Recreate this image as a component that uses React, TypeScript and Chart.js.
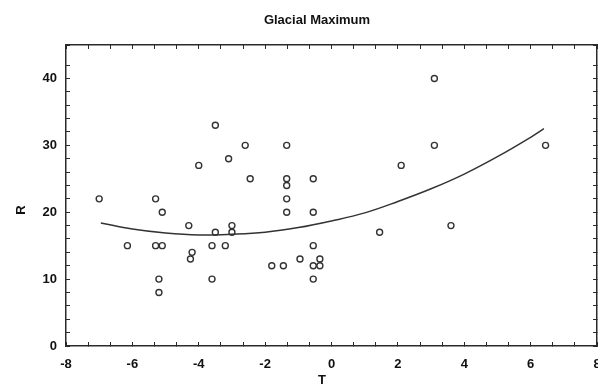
import React, { useEffect, useRef } from "react";
import { Chart, registerables } from "chart.js";

Chart.register(...registerables);

const TITLE = "Glacial Maximum";
const X_TITLE = "T";
const Y_TITLE = "R";

// Observations (T, R)
const obsT = [
  -7.0, -6.15, -5.3, -5.3, -5.1, -5.1, -5.2, -5.2, -4.3, -4.2, -4.25, -4.0,
  -3.6, -3.6, -3.5, -3.5, -3.2, -3.1, -3.0, -3.0, -2.6, -2.45, -1.8, -1.45,
  -1.35, -1.35, -1.35, -1.35, -1.35, -0.95, -0.55, -0.55, -0.55, -0.55, -0.55,
  -0.35, -0.35, 1.45, 2.1, 3.1, 3.1, 3.6, 6.45,
];
const obsR = [
  22, 15, 22, 15, 20, 15, 10, 8, 18, 14, 13, 27,
  15, 10, 33, 17, 15, 28, 18, 17, 30, 25, 12, 12,
  30, 25, 24, 22, 20, 13, 25, 20, 15, 12, 10,
  13, 12, 17, 27, 40, 30, 18, 30,
];

// Fitted curve
const fitT = [-6.95, -6, -5, -4, -3, -2, -1, 0, 1, 2, 3, 4, 5, 6, 6.4];
const fitR = [18.4, 17.5, 16.9, 16.6, 16.7, 17.0, 17.7, 18.7, 19.9, 21.6, 23.5, 25.7, 28.3, 31.2, 32.5];

const X_MIN = -8;
const X_MAX = 8;
const Y_MIN = 0;
const Y_MAX = 45;

const FONT_FAMILY = '"Liberation Sans", Arial, Helvetica, sans-serif';
const INK = "#2a2a2a";

const near = (v: number, step: number) => Math.abs(v / step - Math.round(v / step)) < 1e-6;

const textPlugin = {
  id: "customTexts",
  afterDraw(chart: any) {
    const ctx = chart.ctx;
    ctx.save();
    ctx.fillStyle = "#111";
    ctx.textAlign = "center";
    ctx.textBaseline = "middle";
    ctx.font = `bold 13px ${FONT_FAMILY}`;
    ctx.fillText(TITLE, 317, 20);
    ctx.font = `bold 13px ${FONT_FAMILY}`;
    ctx.fillText(X_TITLE, 322, 380);
    ctx.translate(21, 210);
    ctx.rotate(-Math.PI / 2);
    ctx.fillText(Y_TITLE, 0, 0);
    ctx.restore();
  },
};

export default function App() {
  const ref = useRef<HTMLCanvasElement | null>(null);

  useEffect(() => {
    if (!ref.current) return;
    const tickFont = { family: FONT_FAMILY, size: 13, weight: "bold" as const };
    const gridCommon = {
      drawOnChartArea: false,
      tickLength: -4,
      color: INK,
      tickColor: INK,
      tickWidth: 1,
    };
    const borderCommon = { color: INK, width: 1.5 };
    const noSidePad = (s: any) => {
      s.paddingLeft = 0;
      s.paddingRight = 0;
      s.paddingTop = 0;
      s.paddingBottom = 0;
    };

    const chart = new Chart(ref.current, {
      type: "scatter",
      data: {
        datasets: [
          {
            label: "R",
            data: obsT.map((t, i) => ({ x: t, y: obsR[i] })),
            showLine: false,
            pointStyle: "circle",
            pointRadius: 3,
            pointBorderWidth: 1.4,
            pointBorderColor: "#333",
            pointBackgroundColor: "rgba(255,255,255,0)",
            xAxisID: "x",
            yAxisID: "y",
          },
          {
            label: "fit",
            data: fitT.map((t, i) => ({ x: t, y: fitR[i] })),
            showLine: true,
            pointRadius: 0,
            borderColor: "#333",
            borderWidth: 1.5,
            tension: 0.4,
            fill: false,
            xAxisID: "x",
            yAxisID: "y",
          },
        ],
      },
      options: {
        responsive: false,
        animation: false,
        devicePixelRatio: 1,
        layout: { autoPadding: false, padding: { top: 45, right: 0, bottom: 0, left: 0 } },
        plugins: {
          legend: { display: false },
          title: { display: false },
          tooltip: { enabled: false },
        },
        scales: {
          x: {
            type: "linear",
            position: "bottom",
            min: X_MIN,
            max: X_MAX,
            ticks: {
              stepSize: 2 / 3,
              autoSkip: false,
              maxRotation: 0,
              minRotation: 0,
              padding: 15,
              color: "#111",
              font: tickFont,
              callback: (v: any) => (near(Number(v), 2) ? String(Math.round(Number(v))) : ""),
            },
            grid: gridCommon,
            border: borderCommon,
            afterFit: (s: any) => {
              s.height = 42;
              noSidePad(s);
            },
          },
          x2: {
            type: "linear",
            position: "top",
            min: X_MIN,
            max: X_MAX,
            ticks: { display: false, stepSize: 2 / 3, autoSkip: false },
            grid: gridCommon,
            border: borderCommon,
            afterFit: (s: any) => {
              s.height = 0;
              noSidePad(s);
            },
          },
          y: {
            type: "linear",
            position: "left",
            min: Y_MIN,
            max: Y_MAX,
            ticks: {
              stepSize: 2,
              autoSkip: false,
              padding: 13,
              color: "#111",
              font: tickFont,
              callback: (v: any) => (near(Number(v), 10) ? String(Math.round(Number(v))) : ""),
            },
            grid: gridCommon,
            border: borderCommon,
            afterFit: (s: any) => {
              s.width = 66;
              noSidePad(s);
            },
          },
          y2: {
            type: "linear",
            position: "right",
            min: Y_MIN,
            max: Y_MAX,
            ticks: { display: false, stepSize: 2, autoSkip: false },
            grid: gridCommon,
            border: borderCommon,
            afterFit: (s: any) => {
              s.width = 1;
              noSidePad(s);
            },
          },
        },
      },
      plugins: [textPlugin],
    });
    return () => chart.destroy();
  }, []);

  return (
    <div style={{ position: "fixed", left: 0, top: 0, width: 598, height: 388, background: "#fff" }}>
      <canvas ref={ref} width={598} height={388} style={{ display: "block", width: 598, height: 388 }} />
    </div>
  );
}
